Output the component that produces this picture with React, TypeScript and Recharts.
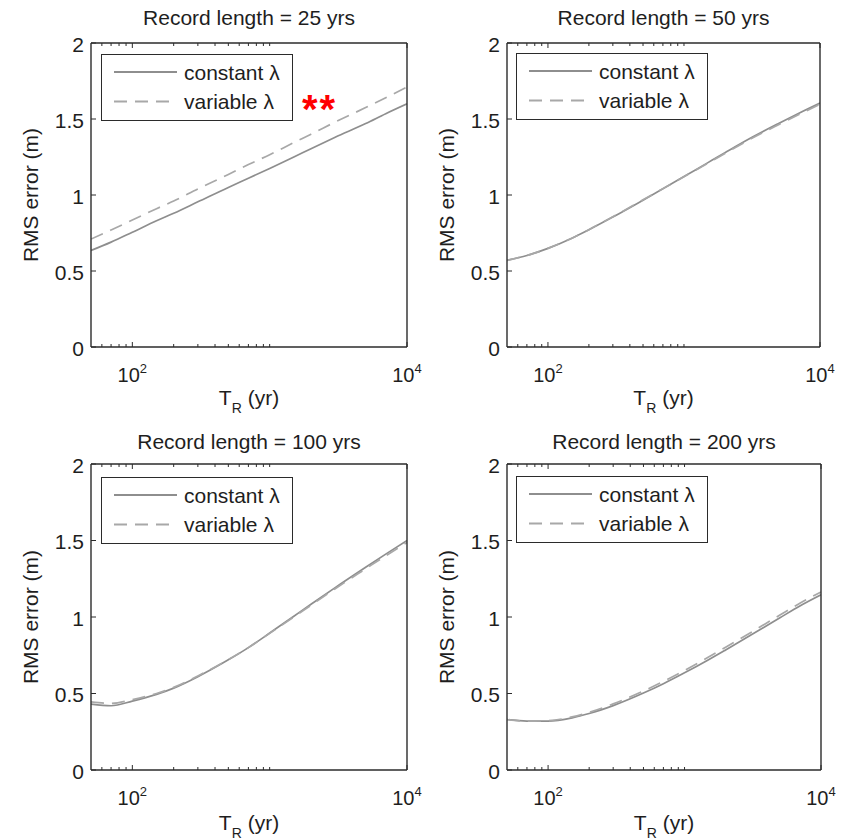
import { LineChart, Line, XAxis, YAxis, Legend } from "recharts";

// return period T_R (yr), sampled on the log axis
const returnPeriods = [50, 70, 100, 150, 200, 300, 500, 700, 1000, 1500, 2000, 3000, 5000, 7000, 10000];

// RMS error (m)
const constant25 = [0.635, 0.69, 0.755, 0.83, 0.88, 0.955, 1.05, 1.11, 1.175, 1.25, 1.305, 1.38, 1.47, 1.535, 1.6];
const variable25 = [0.71, 0.77, 0.835, 0.91, 0.96, 1.04, 1.135, 1.2, 1.265, 1.345, 1.4, 1.48, 1.575, 1.64, 1.71];

const constant50 = [0.57, 0.602, 0.649, 0.716, 0.771, 0.855, 0.966, 1.041, 1.121, 1.213, 1.278, 1.368, 1.472, 1.538, 1.605];
const variable50 = [0.57, 0.602, 0.649, 0.716, 0.772, 0.857, 0.968, 1.042, 1.12, 1.21, 1.273, 1.362, 1.464, 1.529, 1.597];

const constant100 = [0.43, 0.42, 0.45, 0.494, 0.535, 0.61, 0.72, 0.8, 0.895, 1.005, 1.083, 1.192, 1.325, 1.411, 1.5];
const variable100 = [0.445, 0.435, 0.46, 0.5, 0.54, 0.615, 0.722, 0.8, 0.893, 1.0, 1.077, 1.185, 1.315, 1.4, 1.487];

const constant200 = [0.33, 0.32, 0.32, 0.341, 0.369, 0.421, 0.503, 0.564, 0.635, 0.721, 0.785, 0.877, 0.995, 1.072, 1.145];
const variable200 = [0.33, 0.32, 0.323, 0.347, 0.377, 0.432, 0.516, 0.579, 0.651, 0.738, 0.802, 0.894, 1.013, 1.09, 1.163];

const xTicks = [60, 70, 80, 90, 100, 200, 300, 400, 500, 600, 700, 800, 900, 1000, 10000];
const xExponents: Record<number, string> = { 100: "2", 10000: "4" };
const yTicks = [0, 0.5, 1, 1.5, 2];

const FONT = '"Liberation Sans", Arial, Helvetica, sans-serif';
const INK = "#1e1e1e";
const BOX = "#2b2b2b";
const SOLID = "#8e8e8e";
const DASHED = "#a8a8a8";

const rows = (c: number[], v: number[]) =>
  returnPeriods.map((t, i) => ({ t, constant: c[i], variable: v[i] }));

const panels = [
  { title: "Record length = 25 yrs", data: rows(constant25, variable25), L: 91, T: 43, W: 316, H: 304, titleGap: 18, xlabGap: 58, legend: [10, 11], stars: true },
  { title: "Record length = 50 yrs", data: rows(constant50, variable50), L: 507, T: 43, W: 313, H: 304, titleGap: 18, xlabGap: 58, legend: [9, 9.5], stars: false },
  { title: "Record length = 100 yrs", data: rows(constant100, variable100), L: 91, T: 464, W: 316, H: 306, titleGap: 15, xlabGap: 60, legend: [10, 12.5], stars: false },
  { title: "Record length = 200 yrs", data: rows(constant200, variable200), L: 507, T: 464, W: 314, H: 306, titleGap: 15, xlabGap: 60, legend: [9, 12], stars: false },
];

const PAD_L = 80;
const PAD_T = 45;

function BottomTick(props: any) {
  const { x, y, payload } = props;
  const exp = xExponents[payload.value];
  return (
    <g>
      <line x1={x} x2={x} y1={y} y2={y - (exp ? 5 : 3)} stroke={BOX} strokeWidth={1} />
      {exp && (
        <text x={x} y={y + 35} textAnchor="middle" fontSize={20} fill={INK} fontFamily={FONT}>
          10
          <tspan dy={-9} fontSize={13}>
            {exp}
          </tspan>
        </text>
      )}
    </g>
  );
}

function TopTick(props: any) {
  const { x, y, payload } = props;
  const len = xExponents[payload.value] ? 5 : 3;
  return <line x1={x} x2={x} y1={y} y2={y + len} stroke={BOX} strokeWidth={1} />;
}

function LeftTick(props: any) {
  const { x, y, payload } = props;
  return (
    <g>
      <line x1={x} x2={x + 5} y1={y} y2={y} stroke={BOX} strokeWidth={1} />
      <text x={x - 7} y={y + 1} dy="0.36em" textAnchor="end" fontSize={21} fill={INK} fontFamily={FONT}>
        {payload.value}
      </text>
    </g>
  );
}

function RightTick(props: any) {
  const { x, y } = props;
  return <line x1={x} x2={x - 5} y1={y} y2={y} stroke={BOX} strokeWidth={1} />;
}

function LegendBox(props: any) {
  const items = props.payload || [];
  return (
    <div
      style={{
        width: 192,
        height: 67,
        border: `1.4px solid ${BOX}`,
        background: "#fff",
        boxSizing: "border-box",
      }}
    >
      <svg width={190} height={65} style={{ display: "block" }}>
        {items.map((it: any, i: number) => {
          const yy = 17 + i * 29.5;
          return (
            <g key={it.value}>
              <line
                x1={12}
                x2={75}
                y1={yy}
                y2={yy}
                stroke={it.color}
                strokeWidth={1.8}
                strokeDasharray={it.payload?.strokeDasharray}
              />
              <text x={82} y={yy} dy="0.36em" fontSize={21} fill={INK} fontFamily={FONT}>
                {it.value}
              </text>
            </g>
          );
        })}
      </svg>
    </div>
  );
}

function Panel(p: (typeof panels)[number]) {
  const cw = p.W + PAD_L + 20;
  const ch = p.H + PAD_T + 60;
  const cx = PAD_L + p.W / 2;
  return (
    <div style={{ position: "absolute", left: p.L - PAD_L, top: p.T - PAD_T, width: cw, height: ch }}>
      <LineChart width={cw} height={ch} data={p.data} margin={{ top: PAD_T - 10, right: 10, bottom: 30, left: 10 }}>
        <XAxis
          dataKey="t"
          type="number"
          scale="log"
          domain={[50, 10000]}
          allowDataOverflow
          ticks={xTicks}
          interval={0}
          height={30}
          tickSize={0}
          tickMargin={0}
          tickLine={false}
          axisLine={{ stroke: BOX, strokeWidth: 1.4 }}
          tick={<BottomTick />}
        />
        <XAxis
          xAxisId="top"
          dataKey="t"
          type="number"
          scale="log"
          domain={[50, 10000]}
          allowDataOverflow
          orientation="top"
          ticks={xTicks}
          interval={0}
          height={10}
          tickSize={0}
          tickMargin={0}
          tickLine={false}
          axisLine={{ stroke: BOX, strokeWidth: 1.4 }}
          tick={<TopTick />}
        />
        <YAxis
          type="number"
          domain={[0, 2]}
          ticks={yTicks}
          interval={0}
          width={70}
          tickSize={0}
          tickMargin={0}
          tickLine={false}
          axisLine={{ stroke: BOX, strokeWidth: 1.4 }}
          tick={<LeftTick />}
        />
        <YAxis
          yAxisId="right"
          orientation="right"
          type="number"
          domain={[0, 2]}
          ticks={yTicks}
          interval={0}
          width={10}
          tickSize={0}
          tickMargin={0}
          tickLine={false}
          axisLine={{ stroke: BOX, strokeWidth: 1.4 }}
          tick={<RightTick />}
        />
        <Legend
          layout="horizontal"
          align="center"
          verticalAlign="middle"
          content={<LegendBox />}
          wrapperStyle={{ left: PAD_L + p.legend[0], top: PAD_T + p.legend[1], width: 192, height: 67 }}
        />
        <Line
          name="constant λ"
          dataKey="constant"
          type="monotone"
          stroke={SOLID}
          strokeWidth={1.7}
          dot={false}
          isAnimationActive={false}
        />
        <Line
          name="variable λ"
          dataKey="variable"
          type="monotone"
          stroke={DASHED}
          strokeWidth={1.7}
          strokeDasharray="13 8"
          dot={false}
          isAnimationActive={false}
        />
      </LineChart>
      <svg
        width={cw}
        height={ch}
        style={{ position: "absolute", left: 0, top: 0, overflow: "visible", pointerEvents: "none" }}
      >
        <text x={cx} y={PAD_T - p.titleGap} textAnchor="middle" fontSize={21} fill={INK} fontFamily={FONT}>
          {p.title}
        </text>
        <text
          transform={`translate(${PAD_L - 53},${PAD_T + p.H / 2}) rotate(-90)`}
          textAnchor="middle"
          fontSize={21}
          fill={INK}
          fontFamily={FONT}
        >
          RMS error (m)
        </text>
        <text x={cx} y={PAD_T + p.H + p.xlabGap} textAnchor="middle" fontSize={21} fill={INK} fontFamily={FONT}>
          T
          <tspan dy={8} fontSize={14}>
            R
          </tspan>
          <tspan dy={-8}> (yr)</tspan>
        </text>
        {p.stars && (
          <text x={PAD_L + 211} y={PAD_T + 80} fontSize={40} fontWeight="bold" fill="#ff0000" fontFamily={FONT} letterSpacing={2}>
            **
          </text>
        )}
      </svg>
    </div>
  );
}

export default function App() {
  return (
    <div style={{ position: "absolute", left: 0, top: 0, width: 848, height: 840, background: "#fff", overflow: "hidden" }}>
      {panels.map((p) => (
        <Panel key={p.title} {...p} />
      ))}
    </div>
  );
}
